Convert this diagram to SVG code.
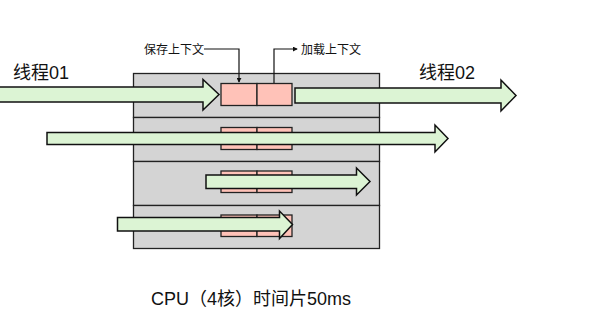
<svg xmlns="http://www.w3.org/2000/svg" width="591" height="319" viewBox="0 0 591 319">
<style>
.lane{fill:#d4d4d4;stroke:#222;stroke-width:1.3}
.ctx{fill:#ffc2b8;stroke:#222;stroke-width:1.3}
.thr{fill:#dcf4d4;stroke:#111;stroke-width:1.5;stroke-linejoin:miter}
.lbl{font-family:"Liberation Sans","Noto Sans CJK SC",sans-serif;fill:#111}
.conn{fill:none;stroke:#111;stroke-width:1.2}
</style>
<defs>
<marker id="ah" viewBox="0 0 6 6" refX="5" refY="3" markerWidth="5" markerHeight="5" orient="auto" markerUnits="userSpaceOnUse">
<path d="M0,0 L6,3 L0,6 Z" fill="#111"/>
</marker>
</defs>
<g id="cpu">
<rect id="core1" class="lane" x="133.5" y="73.5" width="246" height="44"/>
<rect id="core2" class="lane" x="133.5" y="117.5" width="246" height="44"/>
<rect id="core3" class="lane" x="133.5" y="161.5" width="246" height="44"/>
<rect id="core4" class="lane" x="133.5" y="205.5" width="246" height="43"/>
</g>
<g id="ctx-boxes">
<g id="ctx1"><rect class="ctx" x="221" y="83.5" width="36" height="22"/><rect class="ctx" x="257" y="83.5" width="35" height="22"/></g>
<g id="ctx2"><rect class="ctx" x="221" y="127.5" width="36" height="22"/><rect class="ctx" x="257" y="127.5" width="35" height="22"/></g>
<g id="ctx3"><rect class="ctx" x="221" y="171" width="36" height="21.5"/><rect class="ctx" x="257" y="171" width="35" height="21.5"/></g>
<g id="ctx4"><rect class="ctx" x="221" y="215" width="36" height="21.5"/><rect class="ctx" x="257" y="215" width="35" height="21.5"/></g>
</g>
<g id="threads">
<path id="thread01" class="thr" d="M-2,87 H203 V79.5 L219,94.5 L203,110 V102 H-2 Z"/>
<path id="thread02" class="thr" d="M295,88 H501 V80 L516,95.5 L501,111 V103 H295 Z"/>
<path id="thread-r2" class="thr" d="M47,132.5 H435 V125 L448,138.5 L435,152 V144.5 H47 Z"/>
<path id="thread-r3" class="thr" d="M206,175 H356.5 V168 L370,181.5 L356.5,195 V188.5 H206 Z"/>
<path id="thread-r4" class="thr" d="M117.5,217.5 H279.5 V211 L292.5,224.5 L279.5,238.5 V231 H117.5 Z"/>
</g>
<g id="connectors">
<path class="conn" d="M204,49 H239 V82" marker-end="url(#ah)"/>
<path class="conn" d="M274,83 V49 H297" marker-end="url(#ah)"/>
</g>
<g id="labels">
<text class="lbl" x="13" y="79" font-size="18">线程01</text>
<text class="lbl" x="419" y="79" font-size="18">线程02</text>
<text class="lbl" x="144" y="54" font-size="12">保存上下文</text>
<text class="lbl" x="301" y="54" font-size="12">加载上下文</text>
<text class="lbl" x="151" y="305" font-size="18">CPU（4核）时间片50ms</text>
</g>
</svg>
